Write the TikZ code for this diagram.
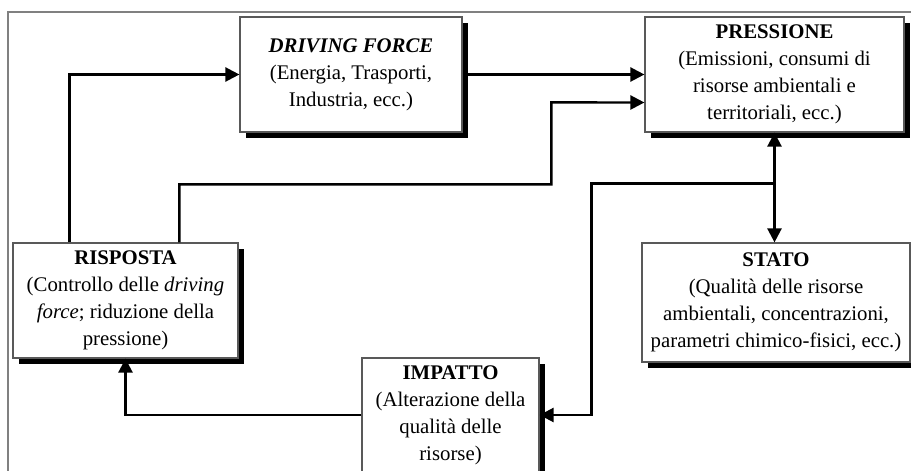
\documentclass[tikz,border=0pt]{standalone}
\usepackage{fontspec}
\setmainfont{Liberation Serif}
\usetikzlibrary{arrows.meta,shadows}

\begin{document}
\begin{tikzpicture}[x=0.5pt,y=-0.5pt,
        blk/.style={draw=gray!70!black, line width=0.6pt, fill=white, align=center, inner sep=0pt,
          font=\fontsize{10.4}{13.5}\selectfont,
          drop shadow={shadow xshift=3pt,shadow yshift=-3pt,opacity=1,fill=black}},
        flow/.style={line width=1.2pt, -{Triangle[length=7pt,width=7pt]}},
        flowboth/.style={line width=1.2pt, {Triangle[length=7pt,width=7pt]}-{Triangle[length=7pt,width=7pt]}}]
        \useasboundingbox (0,0) rectangle (911,471);
        \draw[gray, line width=0.8pt] (8,471) |- (911,12);
        \node[blk, minimum width=111pt, minimum height=57.5pt] (driving) at (351,74.5)
          {\textbf{\textit{DRIVING FORCE}}\\(Energia, Trasporti,\\Industria, ecc.)};
        \node[blk, minimum width=129.5pt, minimum height=57.5pt] (pressione) at (774.5,74.5)
          {\textbf{PRESSIONE}\\(Emissioni, consumi di\\risorse ambientali e\\territoriali, ecc.)};
        \node[blk, minimum width=112.5pt, minimum height=57.5pt] (risposta) at (125.5,300.5)
          {\textbf{RISPOSTA}\\(Controllo delle \textit{driving}\\\textit{force}; riduzione della\\pressione)};
        \node[blk, minimum width=134pt, minimum height=59.5pt] (stato) at (776,302.5)
          {\textbf{STATO}\\(Qualità delle risorse\\ambientali, concentrazioni,\\parametri chimico-fisici, ecc.)};
        \node[blk, minimum width=88.5pt, minimum height=57pt] (impatto) at (450.5,415)
          {\textbf{IMPATTO}\\(Alterazione della\\qualità delle\\risorse)};
        \draw[flow] ([xshift=28.5pt]risposta.north west) |- (driving.west);
        \draw[flow] (driving.east) -- (pressione.west);
        \draw[flow] ([xshift=83.5pt]risposta.north west) -- ++(0,-58) -| ++(372,-82) -- ([yshift=-14pt]pressione.west);
        \draw[flowboth] (pressione.south) -- (pressione.south |- stato.north);
        \draw[flow] ([yshift=-25.5pt]pressione.south) -| ([xshift=26pt]impatto.east) -- (impatto.east);
        \draw[flow] (impatto.west) -| (risposta.south);
        \end{tikzpicture}
\end{document}
